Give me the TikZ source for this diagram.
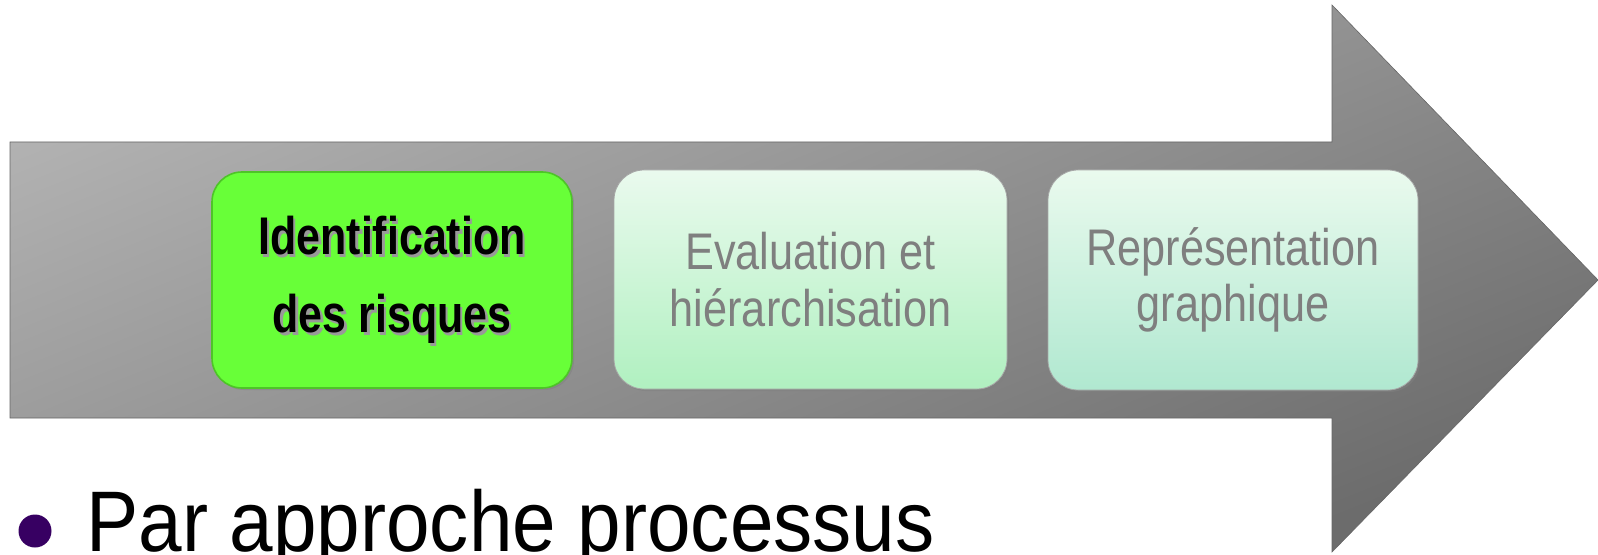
\documentclass[tikz,border=0pt]{standalone}
\usepackage{fontspec}
\setmainfont{Liberation Sans}
\newfontfamily\boxfont[FakeStretch=0.84]{Liberation Sans}
\newfontfamily\boldboxfont[FakeStretch=0.81]{Liberation Sans}
\newfontfamily\listfont[FakeStretch=0.91]{Liberation Sans}
\usetikzlibrary{shadows}
\definecolor{shaftlight}{RGB}{178,178,178}
\definecolor{shaftdark}{RGB}{108,108,108}
\definecolor{idgreen}{RGB}{104,255,56}
\definecolor{idrim}{RGB}{78,196,40}
\definecolor{mintA}{RGB}{234,250,238}
\definecolor{mintB}{RGB}{176,240,192}
\definecolor{mintC}{RGB}{176,232,208}
\definecolor{stagegray}{RGB}{127,127,127}
\definecolor{dotpurple}{RGB}{55,0,98}
\begin{document}
\begin{tikzpicture}[x=.5pt,y=-.5pt,
    stagebox/.style={rounded corners=15pt,inner sep=0,minimum height=109.5pt,
      drop shadow={shadow xshift=1pt,shadow yshift=-1pt,opacity=.5}},
    stagetext/.style={align=center,text=stagegray,font=\boxfont\fontsize{25.75}{28.25}\selectfont}]
    \useasboundingbox (0,0) rectangle (1598,555);
    % big grey arrow
    \shade[top color=shaftlight,bottom color=shaftdark,shading angle=22,draw=gray!80!black,line width=.3pt]
        (10,142)--(1332,142)--(1332,5)--(1598,280)--(1332,552)--(1332,418)--(10,418)--cycle;
    % stages
    \node[stagebox,minimum width=180pt,minimum height=108pt,fill=idgreen,draw=idrim,line width=.8pt] (ident) at (392,280) {};
    \node[stagebox,minimum width=196.5pt,top color=mintA,bottom color=mintB,draw=gray!70] (eval) at (810.5,279.5) {};
    \node[stagebox,minimum width=185pt,minimum height=110pt,top color=mintA,bottom color=mintC,draw=gray!70] (repr) at (1233,280) {};
    \node[align=center,text=gray!80,font=\boldboxfont\bfseries\fontsize{26.5}{39}\selectfont] (identsh) at ([shift={(2.5,2.5)}]ident.center) {Identification\\des risques};
    \node[align=center,font=\boldboxfont\bfseries\fontsize{26.5}{39}\selectfont] (identtxt) at (ident.center) {Identification\\des risques};
    \node[stagetext] (evaltxt) at (eval.center) {Evaluation et\\hiérarchisation};
    \node[stagetext] (reprtxt) at (repr.center) {Représentation\\graphique};
    % bullet line
    \node[circle,fill=dotpurple,minimum size=16.5pt,inner sep=0] (dot) at (35,531) {};
    \node[anchor=base west,inner sep=0,font=\listfont\fontsize{43}{43}\selectfont] (proc) at (86,551) {Par approche processus};
\end{tikzpicture}
\end{document}
